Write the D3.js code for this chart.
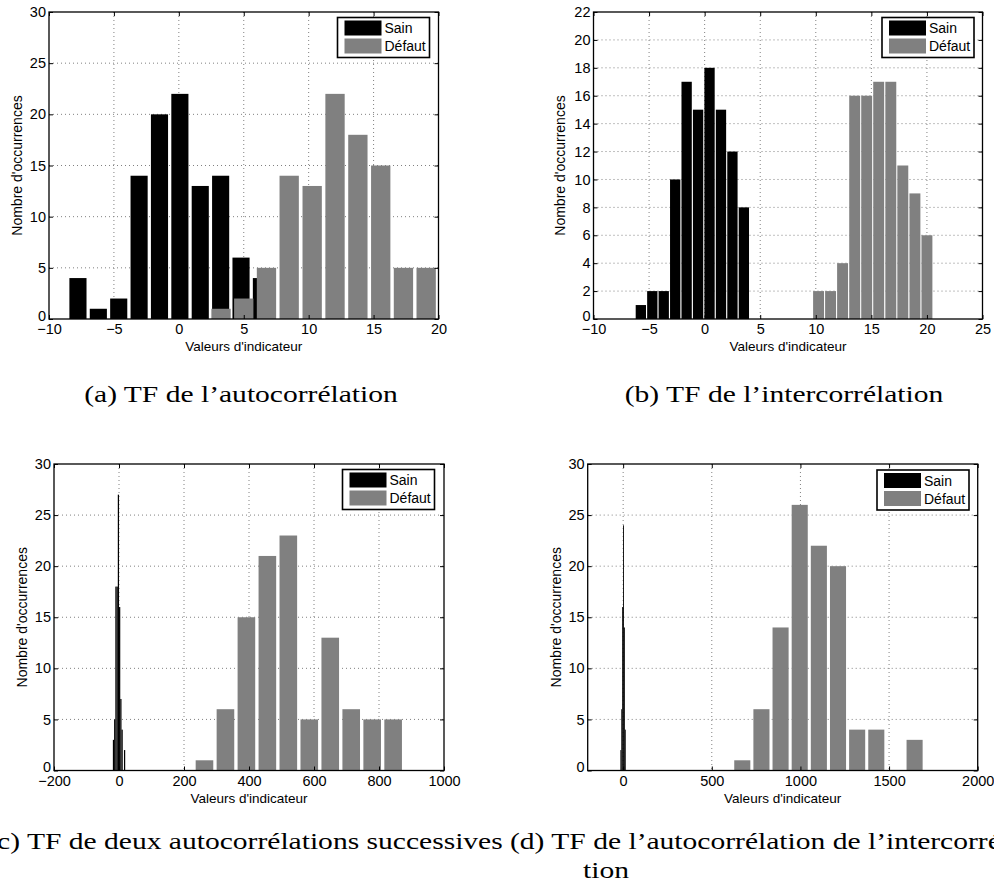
<!DOCTYPE html>
<html>
<head>
<meta charset="utf-8">
<script src="https://cdn.jsdelivr.net/npm/d3@7"></script>
<style>
  body { margin: 0; background: #fff; }
  .caption { font-family: "Liberation Serif", "DejaVu Serif", serif; font-size: 23px; }
</style>
</head>
<body>
<svg id="fig" width="994" height="889"></svg>
<script>
// ---- data (bin centres and counts) ----
const seriesNames = ["Sain", "Défaut"];

// (a) TF de l'autocorrélation
const aSainCenters = [-7.77, -6.2, -4.63, -3.06, -1.49, 0.08, 1.65, 3.22, 4.79, 6.36];
const aSainCounts = [4, 1, 2, 14, 20, 22, 13, 14, 6, 4];
const aDefautCenters = [3.25, 5.0, 6.75, 8.5, 10.27, 12.03, 13.79, 15.55, 17.3, 19.05];
const aDefautCounts = [1, 2, 5, 14, 13, 22, 18, 15, 5, 5];

// (b) TF de l'intercorrélation
const bSainCenters = [-5.74, -4.71, -3.68, -2.65, -1.62, -0.59, 0.44, 1.47, 2.5, 3.53];
const bSainCounts = [1, 2, 2, 10, 17, 15, 18, 15, 12, 8];
const bDefautCenters = [10.25, 11.33, 12.41, 13.5, 14.58, 15.66, 16.75, 17.83, 18.92, 20.0];
const bDefautCounts = [2, 2, 4, 16, 16, 17, 17, 11, 9, 6];

// (c) TF de deux autocorrélations successives
const cSainCenters = [-17, -13.2, -9.4, -5.6, -1.8, 2, 5.8, 9.6, 13.4, 17.2];
const cSainCounts = [3, 5, 18, 18, 27, 16, 7, 4, 0, 2];
const cDefautCenters = [263, 327.5, 392, 456.5, 521, 585.5, 650, 714.5, 779, 843.5];
const cDefautCounts = [1, 6, 15, 21, 23, 5, 13, 6, 5, 5];

// (d) TF de l'autocorrélation de l'intercorrélation
const dSainCenters = [-13, -8, -3, 2, 7, 12];
const dSainCounts = [2, 6, 16, 24, 14, 4];
const dDefautCenters = [672, 780, 888, 996, 1104, 1212, 1320, 1428, 1536, 1644];
const dDefautCounts = [1, 6, 14, 26, 22, 20, 4, 4, 0, 3];

// tick values
const aXTicks = [-10, -5, 0, 5, 10, 15, 20];
const aYTicks = [0, 5, 10, 15, 20, 25, 30];
const bXTicks = [-10, -5, 0, 5, 10, 15, 20, 25];
const bYTicks = [0, 2, 4, 6, 8, 10, 12, 14, 16, 18, 20, 22];
const cXTicks = [-200, 0, 200, 400, 600, 800, 1000];
const cYTicks = [0, 5, 10, 15, 20, 25, 30];
const dXTicks = [0, 500, 1000, 1500, 2000];
const dYTicks = [0, 5, 10, 15, 20, 25, 30];

const xLabel = "Valeurs d'indicateur";
const yLabel = "Nombre d'occurrences";

const SANS = '"Liberation Sans", Arial, Helvetica, sans-serif';
const BLACK = "#000";
const GRAY = "#808080";

const svg = d3.select("#fig");

function drawPanel(p) {
  const x = d3.scaleLinear().domain(p.xDomain).range([p.left, p.right]);
  const y = d3.scaleLinear().domain(p.yDomain).range([p.bottom, p.top]);
  const g = svg.append("g");

  // dotted grid (under the bars)
  g.selectAll(".vgrid")
    .data(p.xTicks.filter((t) => x(t) > p.left + 1 && x(t) < p.right - 1))
    .join("line")
    .attr("x1", (d) => x(d)).attr("x2", (d) => x(d))
    .attr("y1", p.top).attr("y2", p.bottom)
    .attr("stroke", "#808080").attr("stroke-width", 1)
    .attr("stroke-dasharray", "1,3");
  g.selectAll(".hgrid")
    .data(p.yTicks.filter((t) => y(t) < p.bottom - 1 && y(t) > p.top + 1))
    .join("line")
    .attr("x1", p.left).attr("x2", p.right)
    .attr("y1", (d) => y(d)).attr("y2", (d) => y(d))
    .attr("stroke", "#808080").attr("stroke-width", 1)
    .attr("stroke-dasharray", "1,3");

  // bars: Sain first, Défaut drawn over it
  p.series.forEach((s) => {
    const step = s.centers[1] - s.centers[0];
    const w = Math.abs(x(step) - x(0)) * s.frac;
    g.selectAll(null)
      .data(s.centers.map((c, i) => ({ c, n: s.counts[i] })))
      .join("rect")
      .attr("x", (d) => x(d.c) - w / 2)
      .attr("width", w)
      .attr("y", (d) => y(d.n))
      .attr("height", (d) => y(0) - y(d.n))
      .attr("fill", s.color);
  });

  const fmt = d3.format("d");

  // axes with inward ticks, box on
  const gx = g.append("g").attr("transform", `translate(0,${p.bottom})`)
    .call(d3.axisBottom(x).tickValues(p.xTicks).tickSize(-4).tickPadding(5).tickFormat(fmt));
  g.append("g").attr("transform", `translate(0,${p.top})`)
    .call(d3.axisTop(x).tickValues(p.xTicks).tickSize(-4).tickFormat(""));
  const gy = g.append("g").attr("transform", `translate(${p.left},0)`)
    .call(d3.axisLeft(y).tickValues(p.yTicks).tickSize(-4).tickPadding(3).tickFormat(fmt));
  g.append("g").attr("transform", `translate(${p.right},0)`)
    .call(d3.axisRight(y).tickValues(p.yTicks).tickSize(-4).tickFormat(""));

  g.selectAll(".domain").remove();
  g.selectAll(".tick line").attr("stroke", BLACK);
  g.selectAll(".tick text").attr("fill", BLACK);
  gx.attr("font-family", SANS).attr("font-size", 14.5);
  gy.attr("font-family", SANS).attr("font-size", 14.5);
  // the bottom y label sits a little higher so it clears the x labels
  gy.selectAll(".tick text").filter((d) => d === 0).attr("dy", "0.1em");

  g.append("rect")
    .attr("x", p.left).attr("y", p.top)
    .attr("width", p.right - p.left).attr("height", p.bottom - p.top)
    .attr("fill", "none").attr("stroke", BLACK).attr("stroke-width", 1.3);

  // axis titles
  g.append("text")
    .attr("x", (p.left + p.right) / 2).attr("y", p.bottom + 32)
    .attr("text-anchor", "middle")
    .attr("font-family", SANS).attr("font-size", 13.5)
    .text(xLabel);
  g.append("text")
    .attr("transform", `translate(${p.yLabelX},${(p.top + p.bottom) / 2}) rotate(-90)`)
    .attr("text-anchor", "middle")
    .attr("font-family", SANS).attr("font-size", 14)
    .text(yLabel);

  // legend
  const lg = g.append("g").attr("transform", `translate(${p.legend[0]},${p.legend[1]})`);
  lg.append("rect")
    .attr("width", 92).attr("height", 40)
    .attr("fill", "#fff").attr("stroke", BLACK).attr("stroke-width", 1.6);
  seriesNames.forEach((name, i) => {
    lg.append("rect")
      .attr("x", 7).attr("y", 3 + i * 18)
      .attr("width", 37).attr("height", 15)
      .attr("fill", p.series[i].color);
    lg.append("text")
      .attr("x", 47).attr("y", 15.5 + i * 18)
      .attr("font-family", SANS).attr("font-size", 14)
      .text(name);
  });
}

drawPanel({
  left: 49, right: 438.5, top: 12, bottom: 319,
  xDomain: [-10, 20], yDomain: [0, 30], xTicks: aXTicks, yTicks: aYTicks,
  yLabelX: 22, legend: [337.5, 17.5],
  series: [
    { centers: aSainCenters, counts: aSainCounts, color: BLACK, frac: 0.84 },
    { centers: aDefautCenters, counts: aDefautCounts, color: GRAY, frac: 0.85 },
  ],
});
drawPanel({
  left: 593.5, right: 982.5, top: 12, bottom: 319,
  xDomain: [-10, 25], yDomain: [0, 22], xTicks: bXTicks, yTicks: bYTicks,
  yLabelX: 565, legend: [882, 17.5],
  series: [
    { centers: bSainCenters, counts: bSainCounts, color: BLACK, frac: 0.9 },
    { centers: bDefautCenters, counts: bDefautCounts, color: GRAY, frac: 0.91 },
  ],
});
drawPanel({
  left: 54, right: 444, top: 464, bottom: 770.5,
  xDomain: [-200, 1000], yDomain: [0, 30], xTicks: cXTicks, yTicks: cYTicks,
  yLabelX: 27, legend: [342.5, 469.5],
  series: [
    { centers: cSainCenters, counts: cSainCounts, color: BLACK, frac: 1.0 },
    { centers: cDefautCenters, counts: cDefautCounts, color: GRAY, frac: 0.84 },
  ],
});
drawPanel({
  left: 587.7, right: 977.7, top: 464, bottom: 770.5,
  xDomain: [-200, 2000], yDomain: [0, 30], xTicks: dXTicks, yTicks: dYTicks,
  yLabelX: 561, legend: [877, 470],
  series: [
    { centers: dSainCenters, counts: dSainCounts, color: BLACK, frac: 1.0 },
    { centers: dDefautCenters, counts: dDefautCounts, color: GRAY, frac: 0.84 },
  ],
});

// sub-figure captions (serif, stretched a little to match the LaTeX widths)
const captionStretch = 1.285;
const captions = [
  { text: "(a) TF de l’autocorrélation", x: 241, y: 402, anchor: "middle" },
  { text: "(b) TF de l’intercorrélation", x: 784, y: 402, anchor: "middle" },
  { text: "(c) TF de deux autocorrélations successives", x: 245, y: 849, anchor: "middle" },
  { text: "(d) TF de l’autocorrélation de l’intercorréla-", x: 510, y: 849, anchor: "start" },
  { text: "tion", x: 583, y: 878, anchor: "start" },
];
svg.selectAll(".caption")
  .data(captions)
  .join("text")
  .attr("class", "caption")
  .attr("transform", (d) => `translate(${d.x},${d.y}) scale(${captionStretch},1)`)
  .attr("text-anchor", (d) => d.anchor)
  .text((d) => d.text);
</script>
</body>
</html>
